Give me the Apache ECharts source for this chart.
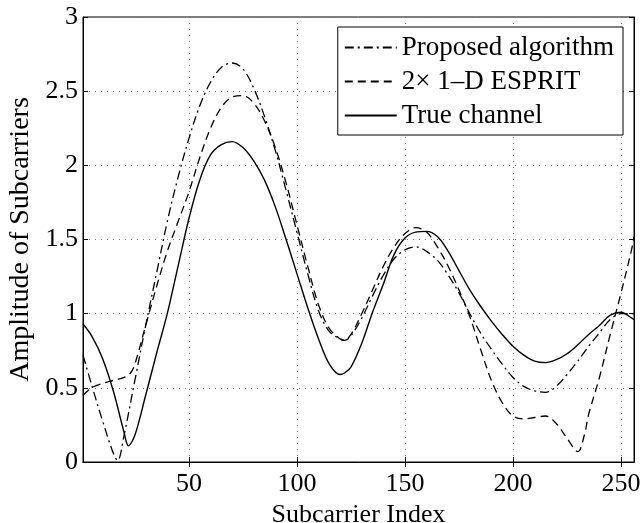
<!DOCTYPE html>
<html>
<head>
<meta charset="utf-8">
<script src="https://cdn.jsdelivr.net/npm/echarts@6/dist/echarts.min.js"></script>
<style>html,body{margin:0;padding:0;background:#fff}#c{width:644px;height:523px}</style>
</head>
<body>
<div id="c"></div>
<script>
const xTicks = [50, 100, 150, 200, 250];
const yTicks = [0, 0.5, 1, 1.5, 2, 2.5, 3];

const trueX = [1,5,10,15,20,22,25,30,35,40,45,50,55,60,65,70,75,80,85,90,95,100,105,110,115,120,122,125,130,135,140,145,150,155,160,165,170,175,180,185,190,195,200,205,210,215,220,225,230,235,240,245,250,255,256];
const trueY = [0.93,0.85,0.70,0.48,0.20,0.11,0.18,0.45,0.73,1.00,1.32,1.64,1.90,2.07,2.14,2.16,2.12,2.03,1.90,1.72,1.50,1.27,1.04,0.83,0.66,0.59,0.60,0.64,0.80,1.01,1.20,1.40,1.51,1.55,1.555,1.52,1.42,1.29,1.16,1.05,0.95,0.86,0.78,0.72,0.68,0.67,0.69,0.73,0.79,0.86,0.92,0.99,1.01,0.97,0.96];

const propX = [1,5,10,15,17,20,25,30,35,40,45,50,55,60,65,70,75,80,85,90,95,100,105,110,115,120,122,125,130,135,140,145,150,155,160,165,170,175,180,185,190,195,200,205,210,215,220,225,230,235,240,245,250,255,256];
const propY = [0.72,0.52,0.28,0.06,0.01,0.18,0.55,0.92,1.27,1.62,1.92,2.18,2.40,2.56,2.66,2.69,2.65,2.52,2.33,2.10,1.83,1.55,1.27,1.02,0.88,0.83,0.82,0.85,0.97,1.12,1.26,1.37,1.43,1.45,1.42,1.36,1.26,1.14,1.00,0.87,0.76,0.66,0.57,0.51,0.48,0.47,0.51,0.59,0.68,0.78,0.87,0.96,1.00,1.00,1.00];

const espritX = [1,5,10,15,20,23,25,30,35,40,45,50,55,60,65,70,75,80,85,90,95,100,105,110,115,120,122,125,130,135,140,145,150,155,160,165,170,175,180,185,190,195,200,205,210,215,220,225,230,233,235,240,245,250,255,256];
const espritY = [0.45,0.50,0.53,0.55,0.57,0.60,0.66,0.92,1.18,1.42,1.62,1.82,2.05,2.25,2.39,2.46,2.47,2.42,2.30,2.12,1.88,1.60,1.32,1.06,0.90,0.83,0.82,0.86,1.00,1.16,1.32,1.45,1.54,1.58,1.55,1.45,1.32,1.16,0.98,0.76,0.55,0.40,0.31,0.29,0.30,0.31,0.26,0.16,0.07,0.18,0.32,0.57,0.86,1.14,1.44,1.52];

const seriesNames = ['Proposed algorithm', '2\u00d7 1\u2013D ESPRIT', 'True channel'];

function pairs(xs, ys) { return xs.map((x, i) => [x, ys[i]]); }

const FONT = 'Liberation Serif';
const chart = echarts.init(document.getElementById('c'), null, {renderer: 'canvas'});
const commonX = {
  type: 'value', min: 1, max: 256,
  axisLine: {show: true, lineStyle: {color: '#000', width: 1}},
  axisTick: {show: true, inside: true, length: 5, customValues: xTicks, lineStyle: {color: '#000'}},
  splitLine: {show: false}
};
const commonY = {
  type: 'value', min: 0, max: 3, interval: 0.5,
  axisLine: {show: true, lineStyle: {color: '#000', width: 1}},
  axisTick: {show: true, inside: true, length: 5, lineStyle: {color: '#000'}},
  splitLine: {show: false}
};
chart.setOption({
  animation: false,
  backgroundColor: '#fff',
  grid: {left: 83, right: 10, top: 17, bottom: 61, show: true, borderColor: '#000', borderWidth: 1,
         containLabel: false, outerBoundsMode: 'none'},
  legend: {
    show: true, orient: 'vertical', right: 21, top: 27,
    data: seriesNames,
    itemWidth: 52, itemHeight: 2, itemGap: 7,
    padding: [7, 9, 6, 6],
    backgroundColor: '#fff', borderColor: '#000', borderWidth: 1,
    itemStyle: {color: 'rgba(0,0,0,0)', borderColor: 'rgba(0,0,0,0)', borderWidth: 0, opacity: 0},
    textStyle: {fontFamily: FONT, fontSize: 27, color: '#000'}
  },
  xAxis: [
    Object.assign({}, commonX, {
      position: 'bottom',
      name: 'Subcarrier Index', nameLocation: 'middle', nameGap: 35,
      nameTextStyle: {fontFamily: FONT, fontSize: 26, color: '#000'},
      axisLabel: {show: true, customValues: xTicks, margin: 9, fontFamily: FONT, fontSize: 26, color: '#000'},
      splitLine: {show: true, lineStyle: {color: '#777', width: 1, type: [1, 5]}}
    }),
    Object.assign({}, commonX, {position: 'top', axisLabel: {show: false}})
  ],
  yAxis: [
    Object.assign({}, commonY, {
      position: 'left',
      name: 'Amplitude of Subcarriers', nameLocation: 'middle', nameGap: 42,
      nameTextStyle: {fontFamily: FONT, fontSize: 28, color: '#000'},
      axisLabel: {show: true, margin: 5, fontFamily: FONT, fontSize: 26, color: '#000'},
      splitLine: {show: true, lineStyle: {color: '#777', width: 1, type: [1, 5]}}
    }),
    Object.assign({}, commonY, {position: 'right', axisLabel: {show: false}})
  ],
  series: [
    {name: seriesNames[0], type: 'line', data: pairs(propX, propY), smooth: 0.35, symbol: 'none',
     lineStyle: {color: '#000', width: 1.3, type: [9, 4, 2, 4]}, itemStyle: {color: '#000'}},
    {name: seriesNames[1], type: 'line', data: pairs(espritX, espritY), smooth: 0.35, symbol: 'none',
     lineStyle: {color: '#000', width: 1.3, type: [8, 5]}, itemStyle: {color: '#000'}},
    {name: seriesNames[2], type: 'line', data: pairs(trueX, trueY), smooth: 0.35, symbol: 'none',
     lineStyle: {color: '#000', width: 1.4, type: 'solid'}, itemStyle: {color: '#000'}}
  ]
});
</script>
</body>
</html>
